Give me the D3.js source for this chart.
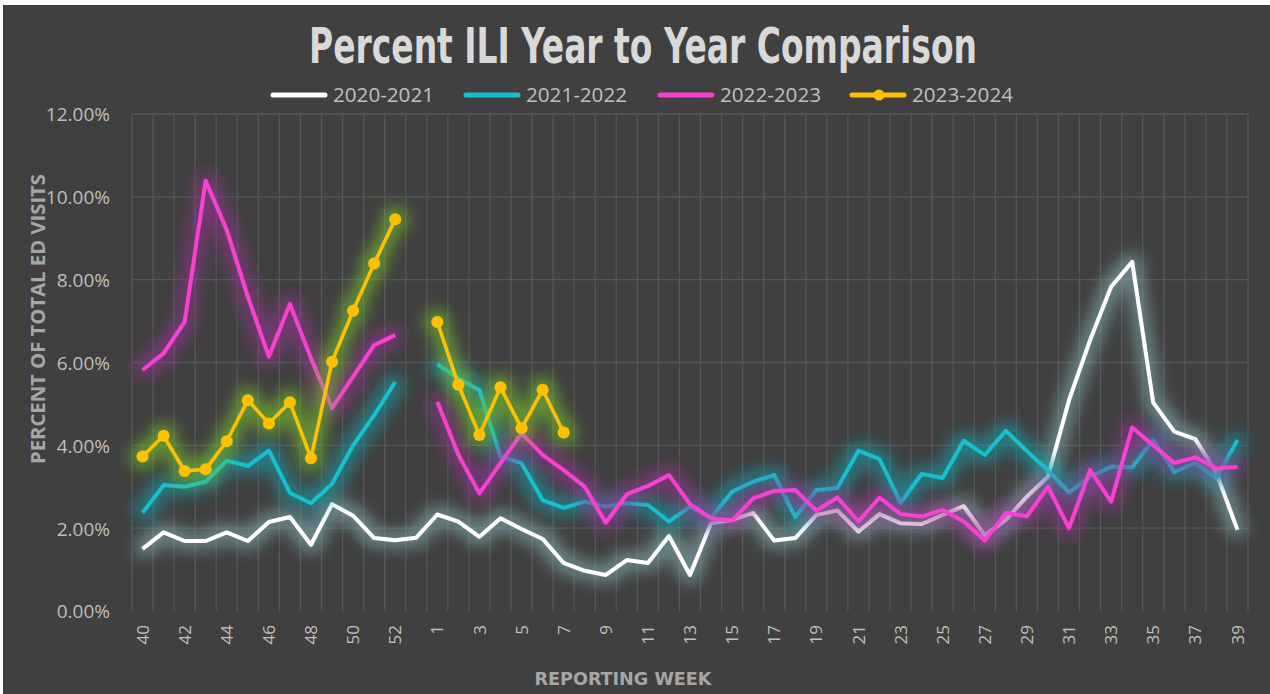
<!DOCTYPE html>
<html>
<head>
<meta charset="utf-8">
<script src="https://cdn.jsdelivr.net/npm/d3@7"></script>
<style>
  body { margin: 0; background: #ffffff; }
  svg { display: block; }
</style>
</head>
<body>
<script>
(function(){

//reporting weeks (2020 had a week 53)
var weeks = [40,41,42,43,44,45,46,47,48,49,50,51,52,53,
    1,2,3,4,5,6,7,8,9,10,11,12,13,14,15,16,17,18,19,20,
    21,22,23,24,25,26,27,28,29,30,31,32,33,34,35,36,37,38,39];

//percent ILI per season (null = no value)
var s2020 = [1.50,1.90,1.69,1.69,1.90,1.69,2.15,2.27,1.60,2.58,2.30,1.76,1.71,1.77,
    2.33,2.16,1.79,2.24,1.98,1.74,1.16,0.97,0.87,1.23,1.16,1.81,0.87,2.12,2.20,2.37,
    1.70,1.76,2.32,2.43,1.92,2.34,2.12,2.10,2.32,2.53,1.83,2.20,2.76,3.24,5.09,6.54,
    7.83,8.43,5.03,4.33,4.15,3.33,1.96];
var s2021 = [2.37,3.04,3.00,3.12,3.63,3.50,3.87,2.85,2.60,3.07,4.00,4.73,5.53,null,
    5.96,5.62,5.33,3.73,3.57,2.68,2.49,2.64,2.52,2.60,2.56,2.16,2.52,2.25,2.88,3.12,
    3.28,2.27,2.92,2.97,3.87,3.67,2.61,3.31,3.21,4.11,3.77,4.35,3.86,3.40,2.86,3.24,
    3.48,3.47,4.13,3.36,3.58,3.21,4.13];
var s2022 = [5.82,6.22,6.98,10.39,9.20,7.59,6.14,7.41,6.10,4.90,5.66,6.42,6.66,null,
    5.05,3.77,2.84,3.57,4.29,3.77,3.40,3.00,2.13,2.82,3.02,3.28,2.58,2.24,2.18,2.72,
    2.90,2.92,2.42,2.74,2.16,2.74,2.34,2.28,2.44,2.16,1.70,2.37,2.29,3.00,2.00,3.40,
    2.64,4.43,4.00,3.57,3.71,3.44,3.48];
var s2023 = [3.73,4.23,3.38,3.42,4.10,5.09,4.53,5.04,3.69,6.02,7.25,8.39,9.46,null,
    6.98,5.46,4.25,5.40,4.41,5.34,4.31];

var seriesNames = ["2020-2021", "2021-2022", "2022-2023", "2023-2024"];
var seriesValues = [s2020, s2021, s2022, s2023];
var seriesColors = ["#ffffff", "#12c0d0", "#f83fd2", "#ffc000"];
var glowColors = ["#7fa9ae", "#1b9aa6", "#93348f", "#74bf2c"];
var yTicks = [0, 2, 4, 6, 8, 10, 12];

var width = 1270, height = 694;
var plot = {left: 132, right: 1248, top: 114, bottom: 611};

var svg = d3.select("body").append("svg")
    .attr("width", width)
    .attr("height", height);

//background, with the thin white edge at top and left
svg.append("rect").attr("width", width).attr("height", height).attr("fill", "#ffffff");
svg.append("rect").attr("x", 3).attr("y", 5)
    .attr("width", width - 3).attr("height", height - 5)
    .attr("fill", "#404040");

//glow filters (dilate + blur, tinted)
var defs = svg.append("defs");
glowColors.forEach(function(c, i){
    var f = defs.append("filter")
        .attr("id", "glow" + i)
        .attr("filterUnits", "userSpaceOnUse")
        .attr("x", 0).attr("y", 0)
        .attr("width", width).attr("height", height);
    f.append("feMorphology").attr("in", "SourceAlpha").attr("operator", "dilate").attr("radius", 6).attr("result", "fat");
    f.append("feGaussianBlur").attr("in", "fat").attr("stdDeviation", 7.5).attr("result", "blur");
    f.append("feFlood").attr("flood-color", c).attr("flood-opacity", 0.65).attr("result", "tint");
    f.append("feComposite").attr("in", "tint").attr("in2", "blur").attr("operator", "in").attr("result", "glow");
    var m = f.append("feMerge");
    m.append("feMergeNode").attr("in", "glow");
    m.append("feMergeNode").attr("in", "SourceGraphic");
});

//scales
var x = d3.scaleBand()
    .domain(weeks.map(function(d, i){ return i; }))
    .range([plot.left, plot.right])
    .padding(0);
var y = d3.scaleLinear()
    .domain([0, 12])
    .range([plot.bottom, plot.top]);

function cx(i){ return x(i) + x.bandwidth() / 2; }

//gridlines
var grid = svg.append("g").attr("stroke", "#575757").attr("stroke-width", 1.3);
grid.selectAll(".hgrid")
    .data(yTicks.slice(1))
    .enter()
    .append("line")
    .attr("x1", plot.left).attr("x2", plot.right)
    .attr("y1", function(d){ return y(d); })
    .attr("y2", function(d){ return y(d); });
grid.selectAll(".vgrid")
    .data(d3.range(weeks.length + 1))
    .enter()
    .append("line")
    .attr("x1", function(d){ return d < weeks.length ? x(d) : plot.right; })
    .attr("x2", function(d){ return d < weeks.length ? x(d) : plot.right; })
    .attr("y1", plot.top).attr("y2", plot.bottom);

//y axis
var yAxis = svg.append("g")
    .attr("transform", "translate(" + (plot.left - 22) + ",0)")
    .call(d3.axisLeft(y).tickValues(yTicks).tickSize(0).tickPadding(0)
        .tickFormat(function(d){ return d3.format(".2f")(d) + "%"; }));
yAxis.select(".domain").remove();
yAxis.selectAll("text")
    .attr("fill", "#bfbfbf")
    .attr("font-family", "'Open Sans', sans-serif")
    .attr("font-size", 19)
    .attr("dy", "0.36em");

//x axis, every other week labelled
var xAxis = svg.append("g")
    .attr("transform", "translate(0," + (plot.bottom + 14) + ")")
    .call(d3.axisBottom(x).tickSize(0).tickPadding(0)
        .tickValues(d3.range(0, weeks.length, 2))
        .tickFormat(function(i){ return weeks[i]; }));
xAxis.select(".domain").remove();
xAxis.selectAll("text")
    .attr("fill", "#bfbfbf")
    .attr("font-family", "'Open Sans', sans-serif")
    .attr("font-size", 17)
    .attr("transform", "rotate(-90)")
    .attr("text-anchor", "end")
    .attr("x", 0)
    .attr("y", 0)
    .attr("dy", "0.36em");

//lines
var line = d3.line()
    .defined(function(d){ return d != null; })
    .x(function(d, i){ return cx(i); })
    .y(function(d){ return y(d); });

seriesValues.forEach(function(vals, s){
    var g = svg.append("g").attr("filter", "url(#glow" + s + ")");
    g.append("path")
        .datum(vals)
        .attr("fill", "none")
        .attr("stroke", seriesColors[s])
        .attr("stroke-width", s == 3 ? 3.5 : 4)
        .attr("stroke-linejoin", "round")
        .attr("d", line);
    if (s == 3){
        g.selectAll(".dot")
            .data(vals.map(function(v, i){ return {v: v, i: i}; })
                .filter(function(d){ return d.v != null; }))
            .enter()
            .append("circle")
            .attr("cx", function(d){ return cx(d.i); })
            .attr("cy", function(d){ return y(d.v); })
            .attr("r", 6)
            .attr("fill", seriesColors[s]);
    };
});

//title
svg.append("text")
    .attr("x", 643).attr("y", 63)
    .attr("text-anchor", "middle")
    .attr("fill", "#d9d9d9")
    .attr("font-family", "'Liberation Sans Narrow', 'DejaVu Sans Condensed', sans-serif")
    .attr("font-weight", "bold")
    .attr("font-size", 50)
    .attr("textLength", 668)
    .attr("lengthAdjust", "spacingAndGlyphs")
    .text("Percent ILI Year to Year Comparison");

//legend
var legendX = [273, 466, 660, 852];
seriesNames.forEach(function(name, s){
    var lg = svg.append("g").attr("transform", "translate(" + legendX[s] + ",95)");
    lg.append("line")
        .attr("x1", 0).attr("x2", 52)
        .attr("stroke", seriesColors[s])
        .attr("stroke-width", 5)
        .attr("stroke-linecap", "round");
    if (s == 3){
        lg.append("circle").attr("cx", 27).attr("r", 5.5).attr("fill", seriesColors[s]);
    };
    lg.append("text")
        .attr("x", 60).attr("dy", "0.36em")
        .attr("fill", "#bfbfbf")
        .attr("font-family", "'Open Sans', sans-serif")
        .attr("font-size", 19.5)
        .attr("textLength", 101)
        .attr("lengthAdjust", "spacingAndGlyphs")
        .text(name);
});

//axis titles
svg.append("text")
    .attr("transform", "translate(45,319) rotate(-90)")
    .attr("text-anchor", "middle")
    .attr("fill", "#a6a6a6")
    .attr("font-family", "'Open Sans', sans-serif")
    .attr("font-weight", "bold")
    .attr("font-size", 20)
    .attr("textLength", 290)
    .attr("lengthAdjust", "spacingAndGlyphs")
    .text("PERCENT OF TOTAL ED VISITS");

svg.append("text")
    .attr("x", 623).attr("y", 685)
    .attr("text-anchor", "middle")
    .attr("fill", "#a6a6a6")
    .attr("font-family", "'Liberation Sans Narrow', 'DejaVu Sans Condensed', sans-serif")
    .attr("font-weight", "bold")
    .attr("font-size", 18)
    .attr("textLength", 177)
    .attr("lengthAdjust", "spacingAndGlyphs")
    .text("REPORTING WEEK");

})();
</script>
</body>
</html>
